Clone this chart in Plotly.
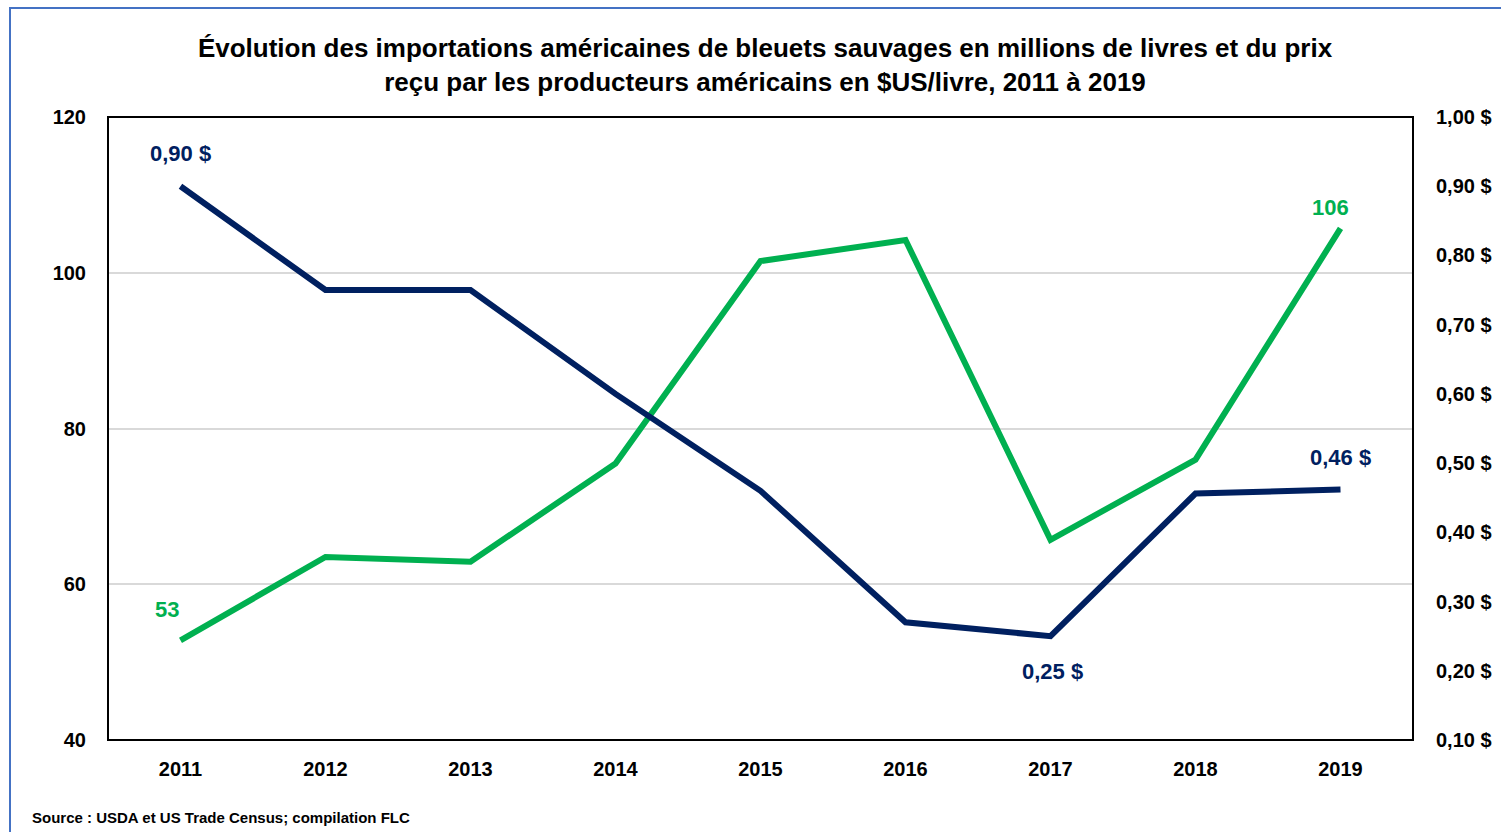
import plotly.graph_objects as go

# ---- data ----
years = ["2011", "2012", "2013", "2014", "2015", "2016", "2017", "2018", "2019"]
imports_mlb = [52.8, 63.5, 62.9, 75.5, 101.5, 104.2, 65.7, 76.0, 105.7]
price_usd = [0.90, 0.75, 0.75, 0.60, 0.46, 0.27, 0.25, 0.456, 0.462]

title_text = ("Évolution des importations américaines de bleuets sauvages en millions de livres et du prix<br>"
              "reçu par les producteurs américains en $US/livre, 2011 à 2019")
source_text = "Source : USDA et US Trade Census; compilation FLC"

GREEN = "#00B050"
NAVY = "#002060"
FONT = "Liberation Sans Narrow, Arial Narrow, Liberation Sans, Arial, sans-serif"

W, H = 1501, 832
ML, MR, MT, MB = 108, 88, 117, 92

fig = go.Figure()
fig.add_trace(go.Scatter(x=years, y=imports_mlb, mode="lines", name="Importations",
                         line=dict(color=GREEN, width=6), yaxis="y"))
fig.add_trace(go.Scatter(x=years, y=price_usd, mode="lines", name="Prix",
                         line=dict(color=NAVY, width=6), yaxis="y2"))

def fmt_price(v):
    return f"{v:.2f}".replace(".", ",") + " $"

# (series, index, xshift, yshift)
label_spec = [
    ("price", 0, 0, 33),
    ("price", 6, 2, -35),
    ("price", 8, 0, 32),
    ("imports", 0, -14, 31),
    ("imports", 8, -10, 21),
]
for series, i, dx, dy in label_spec:
    if series == "price":
        yv, yref, txt, col = price_usd[i], "y2", fmt_price(price_usd[i]), NAVY
    else:
        yv, yref, txt, col = imports_mlb[i], "y", f"{imports_mlb[i]:.0f}", GREEN
    fig.add_annotation(x=i, y=yv, xref="x", yref=yref, text=f"<b>{txt}</b>",
                       showarrow=False, xshift=dx, yshift=dy, xanchor="center", yanchor="middle",
                       font=dict(family=FONT, size=22, color=col))

pw = W - ML - MR
ph = H - MT - MB

# source note
fig.add_annotation(x=(30 - ML) / pw, y=(H - MB - 817) / ph, xref="paper", yref="paper",
                   text=f"<b>{source_text}</b>", showarrow=False, xanchor="left", yanchor="middle",
                   font=dict(family=FONT, size=15, color="black"))

# plot-area border
fig.add_shape(type="rect", xref="paper", yref="paper", x0=0, x1=1, y0=0, y1=1,
              line=dict(color="black", width=2), layer="above")
# outer chart border
fig.add_shape(type="rect", xref="paper", yref="paper",
              x0=(10 - ML) / pw, x1=(1520 - ML) / pw,
              y0=(H - MB - 850) / ph, y1=(H - MB - 8) / ph,
              line=dict(color="#4472C4", width=2), layer="above")

fig.update_layout(
    width=W, height=H,
    margin=dict(l=ML, r=MR, t=MT, b=MB, autoexpand=False),
    paper_bgcolor="white", plot_bgcolor="white",
    separators=", ",
    showlegend=False,
    font=dict(family=FONT, color="black"),
    title=dict(text=f"<b>{title_text}</b>", x=765 / W, xanchor="center", xref="container",
               y=1 - 57 / H, yanchor="middle", yref="container",
               font=dict(family=FONT, size=26, color="black")),
    xaxis=dict(type="category", range=[-0.5, len(years) - 0.5], showgrid=False, zeroline=False,
               showline=False, ticks="", ticklabelstandoff=15,
               tickfont=dict(family=FONT, size=20, color="black", weight="bold")),
    yaxis=dict(range=[40, 120], dtick=20, tick0=40, showgrid=True, gridcolor="#D9D9D9", gridwidth=2,
               zeroline=False, showline=False, ticks="", ticklabelstandoff=21,
               tickfont=dict(family=FONT, size=20, color="black", weight="bold")),
    yaxis2=dict(range=[0.10, 1.00], dtick=0.1, tick0=0.1, overlaying="y", side="right",
                showgrid=False, zeroline=False, showline=False, ticks="", ticklabelstandoff=22,
                tickformat=".2f", ticksuffix=" $",
                tickfont=dict(family=FONT, size=20, color="black", weight="bold")),
)

fig.write_html("out.html", config={"displayModeBar": False},
               post_script="document.body.style.margin='0px';")
